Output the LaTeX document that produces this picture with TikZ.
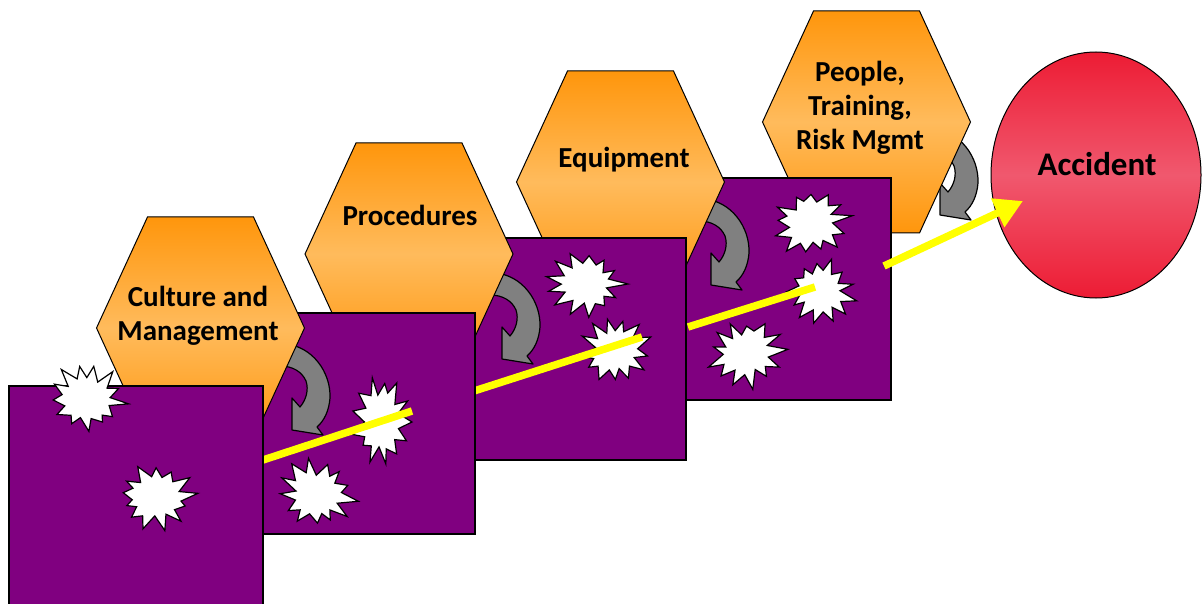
\documentclass[tikz,border=0pt]{standalone}
\usepackage{fontspec}
\setmainfont{Carlito}
\usetikzlibrary{arrows.meta}
\definecolor{purp}{RGB}{128,0,128}
\definecolor{orgdark}{RGB}{255,150,12}
\definecolor{orglight}{RGB}{255,187,92}
\definecolor{reddark}{RGB}{237,28,52}
\definecolor{redlight}{RGB}{240,88,110}
\definecolor{arrgray}{RGB}{128,128,128}
\definecolor{ylw}{RGB}{255,255,0}
\tikzset{
  slice/.style={fill=purp, draw=black, line width=1.2pt},
  hexa/.style={draw=black, line width=1pt, top color=orgdark, bottom color=orgdark, middle color=orglight},
  turnarrow/.style={fill=arrgray, draw=black, line width=1.2pt, line join=round},
  hole/.style={fill=white, draw=black, line width=1.2pt, line join=miter},
  captxt/.style={font=\bfseries\fontsize{29}{34}\selectfont, align=center, inner sep=0pt},
  ray/.style={draw=ylw, line width=7.5pt},
}
\newcommand\hexat[2]{\draw[hexa, shift={(#1,#2)}] (-104,0) -- (-53,-111) -- (53,-111) -- (104,0) -- (53,111) -- (-53,111) -- cycle;}
\newcommand\turnat[2]{\draw[turnarrow, shift={(#1,#2)}] (285,344) .. controls (312,346) and (331,372) .. (330,398) .. controls (329,411) and (324,421) .. (317,427) -- (323,435) -- (292,430) -- (292,398) -- (300,407) .. controls (306,400) and (309,390) .. (306,381) .. controls (302,372) and (293,366) .. (280,366) -- cycle;}
\newcommand\burst[6]{%
  \pgfmathsetseed{#6}%
  \draw[hole, shift={(#1,#2)}, rotate=#5] (#3,0)
    \foreach \k [evaluate=\k as \f using iseven(\k) ? 0.72+0.28*rnd : 0.5+0.12*rnd,
                 evaluate=\k as \a using \k*360/26+8*(rnd-0.5)] in {1,...,25}
      { -- ({\f*#3*cos(\a)},{\f*#4*sin(\a)}) } -- cycle;}
\begin{document}
\begin{tikzpicture}[x=1pt,y=-1pt]
\useasboundingbox (0,0) rectangle (1202,604);
\clip (0,0) rectangle (1202,604);
% Accident
\draw[line width=1pt, top color=reddark, bottom color=reddark, middle color=redlight] (1096,175) ellipse [x radius=105, y radius=123];
\node[captxt, font=\bfseries\fontsize{33}{38}\selectfont] (acc) at (1097,164) {Accident};
% unit 4
\turnat{648}{-215}
\hexat{866.5}{122}
\node[captxt] (people) at (860,108) {People,\\Training,\\Risk Mgmt};
\draw[slice] (686,178) rectangle (891,400);
\burst{811}{223}{42}{37}{10}{7}
\burst{820}{291}{38}{36}{-15}{11}
\burst{746}{353}{42}{37}{5}{23}
\coordinate (c1) at (688,327);
\coordinate (c2) at (815,287);
\draw[ray] (c1) -- (c2);
% unit 3
\turnat{419}{-145}
\hexat{620.5}{182}
\node[captxt] (equip) at (624,160) {Equipment};
\draw[slice] (474,238) rectangle (686,460);
\burst{586}{284}{42}{36}{0}{31}
\burst{615}{350}{38}{37}{20}{43}
\coordinate (b1) at (474,391);
\coordinate (b2) at (642,337);
\draw[ray] (b1) -- (b2);
% unit 2
\turnat{210}{-71}
\hexat{409}{254}
\node[captxt] (proc) at (410,215) {Procedures};
\draw[slice] (262,313) rectangle (475,534);
\burst{381}{422}{31}{50}{0}{53}
\burst{317}{494}{42}{37}{-10}{61}
\coordinate (a1) at (263,460);
\coordinate (a2) at (412,411);
\draw[ray] (a1) -- (a2);
% unit 1
\turnat{0}{0}
\hexat{200.5}{328}
\node[captxt] (culture) at (198,316) {Culture and\\Management};
\draw[slice] (9,386) rectangle (263,640);
\burst{87}{398}{42}{37}{-8}{71}
\burst{156}{497}{42}{35}{5}{83}
% final ray
\coordinate (d1) at (884,266);
\coordinate (d2) at (1023,201);
\draw[ray, -{Triangle[length=28pt,width=30pt]}] (d1) -- (d2);
\end{tikzpicture}
\end{document}
